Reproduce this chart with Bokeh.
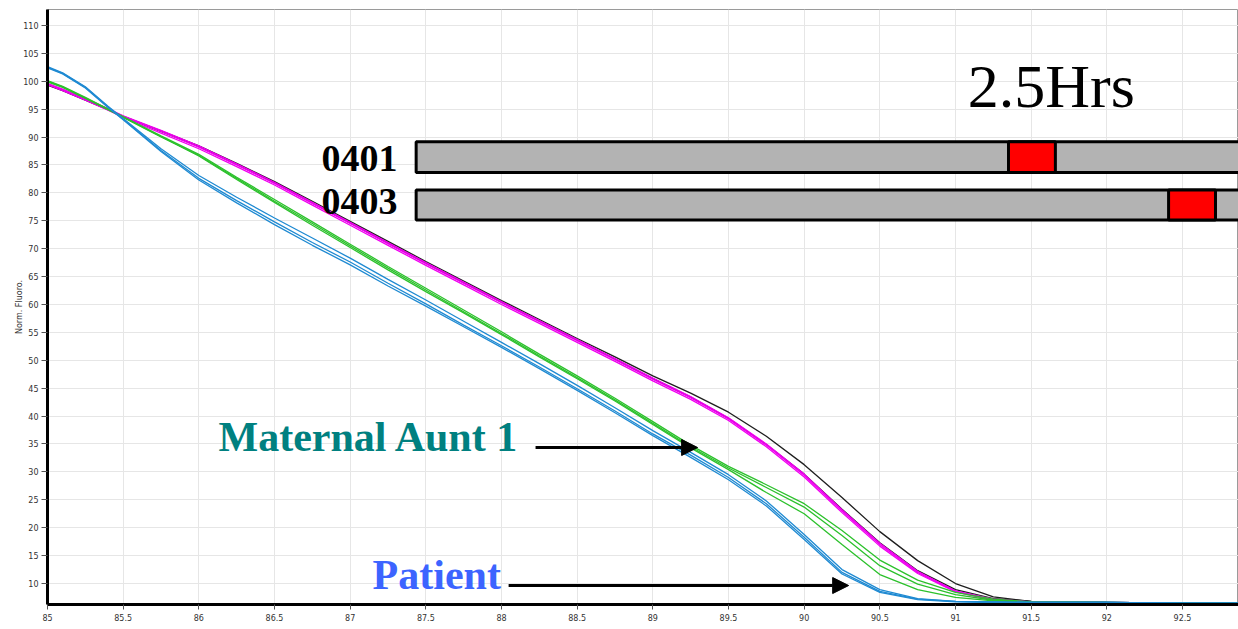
from bokeh.plotting import figure
from bokeh.models import (Range1d, FixedTicker, NumeralTickFormatter, Label,
                          Arrow, NormalHead)
from bokeh.embed import file_html
from bokeh.resources import INLINE

# Melt temperatures (deg.) shared by every curve
temps = [85.0, 85.1, 85.25, 85.4, 85.5, 85.75, 86.0, 86.25, 86.5, 86.75, 87.0,
         87.25, 87.5, 87.75, 88.0, 88.25, 88.5, 88.75, 89.0, 89.25, 89.5, 89.75,
         90.0, 90.25, 90.5, 90.75, 91.0, 91.25, 91.5, 92.0, 92.5, 92.9]

# Normalised fluorescence, patient replicates (blue)
patient_1 = [102.5, 101.4, 98.9, 95.4, 93.2, 87.6, 82.6, 78.6, 74.8, 71.1, 67.6,
             63.8, 60.1, 56.3, 52.6, 48.8, 44.9, 40.9, 36.8, 33.0, 29.0, 24.3,
             18.3, 12.0, 8.6, 7.2, 6.8, 6.7, 6.6, 6.6, 6.5, 6.5]
patient_2 = [102.6, 101.5, 99.0, 95.5, 93.3, 87.9, 83.1, 79.2, 75.5, 71.9, 68.3,
             64.5, 60.8, 57.0, 53.2, 49.4, 45.5, 41.5, 37.4, 33.5, 29.5, 24.8,
             18.8, 12.5, 8.9, 7.3, 6.8, 6.7, 6.6, 6.6, 6.5, 6.5]
patient_3 = [102.4, 101.3, 98.8, 95.3, 93.1, 87.4, 82.3, 78.2, 74.3, 70.6, 67.1,
             63.3, 59.7, 56.0, 52.3, 48.5, 44.6, 40.6, 36.5, 32.6, 28.6, 23.9,
             17.9, 11.7, 8.4, 7.1, 6.7, 6.6, 6.6, 6.6, 6.5, 6.5]

# Maternal aunt 1 replicates (green)
aunt_1 = [100.0, 99.0, 97.0, 95.0, 93.6, 90.2, 86.9, 82.8, 78.8, 74.8, 70.8,
          66.8, 62.9, 59.0, 55.1, 51.1, 47.2, 43.2, 39.0, 34.8, 31.0, 27.7,
          24.3, 19.5, 14.2, 10.6, 8.4, 7.2, 6.7, 6.6, 6.5, 6.5]
aunt_2 = [99.9, 98.9, 96.9, 94.9, 93.5, 90.0, 86.7, 82.6, 78.5, 74.5, 70.5,
          66.5, 62.6, 58.7, 54.8, 50.8, 46.9, 42.9, 38.7, 34.5, 30.7, 27.2,
          23.7, 18.6, 13.2, 9.9, 8.0, 7.0, 6.7, 6.6, 6.5, 6.5]
aunt_3 = [100.1, 99.1, 97.1, 95.0, 93.6, 90.1, 86.6, 82.4, 78.3, 74.2, 70.2,
          66.2, 62.3, 58.5, 54.6, 50.6, 46.7, 42.7, 38.5, 34.3, 30.4, 26.3,
          22.5, 17.0, 11.6, 8.9, 7.5, 6.9, 6.6, 6.6, 6.5, 6.5]

# Reference sample replicates (magenta)
ref_m1 = [99.5, 98.5, 96.8, 95.0, 93.7, 91.0, 88.2, 85.0, 81.7, 78.1, 74.5,
          70.9, 67.3, 63.8, 60.3, 56.9, 53.5, 50.1, 46.6, 43.3, 39.5, 34.8,
          29.4, 23.0, 17.0, 12.0, 8.6, 7.1, 6.7, 6.6, 6.5, 6.5]
ref_m2 = [99.4, 98.3, 96.6, 94.8, 93.5, 90.7, 87.9, 84.7, 81.4, 77.8, 74.2,
          70.6, 67.0, 63.5, 60.0, 56.6, 53.2, 49.8, 46.3, 43.0, 39.2, 34.5,
          29.1, 22.7, 16.7, 11.8, 8.5, 7.0, 6.7, 6.6, 6.5, 6.5]
ref_m3 = [99.6, 98.6, 96.9, 95.1, 93.8, 91.2, 88.4, 85.2, 81.9, 78.3, 74.7,
          71.1, 67.5, 64.0, 60.5, 57.1, 53.7, 50.3, 46.8, 43.5, 39.7, 35.0,
          29.6, 23.2, 17.2, 12.2, 8.7, 7.2, 6.7, 6.6, 6.5, 6.5]

# Control replicates (black)
ctrl_1 = [99.3, 98.3, 96.6, 94.9, 93.7, 91.1, 88.4, 85.3, 82.0, 78.5, 74.9,
          71.3, 67.7, 64.2, 60.7, 57.3, 53.9, 50.6, 47.2, 44.1, 40.7, 36.4,
          31.3, 25.4, 19.3, 14.1, 10.0, 7.6, 6.8, 6.6, 6.5, 6.5]
ctrl_2 = [99.4, 98.4, 96.7, 94.9, 93.7, 91.0, 88.3, 85.1, 81.8, 78.2, 74.6,
          71.0, 67.4, 63.9, 60.4, 57.0, 53.6, 50.2, 46.7, 43.4, 39.6, 34.9,
          29.6, 23.3, 17.3, 12.3, 8.9, 7.3, 6.8, 6.6, 6.5, 6.5]

x_ticks = [85.0, 85.5, 86.0, 86.5, 87.0, 87.5, 88.0, 88.5, 89.0, 89.5, 90.0,
           90.5, 91.0, 91.5, 92.0, 92.5]
y_ticks = [10, 15, 20, 25, 30, 35, 40, 45, 50, 55, 60, 65, 70, 75, 80, 85, 90,
           95, 100, 105, 110]

# Allele rows: label, melt window start/end on the temperature scale
allele_names = ["0401", "0403"]
allele_win_lo = [91.35, 92.408]
allele_win_hi = [91.66, 92.718]

p = figure(width=1238, height=629, output_backend="svg", toolbar_location=None,
           x_range=Range1d(85.0, 92.87), y_range=Range1d(6.24, 112.85),
           min_border_left=47, min_border_right=0, min_border_top=9,
           min_border_bottom=25, background_fill_color="white",
           border_fill_color="white")

p.outline_line_color = "#9a9a9a"
p.outline_line_width = 1
p.grid.grid_line_color = "#e6e6e6"
p.grid.grid_line_width = 1

for ax in (p.xaxis[0], p.yaxis[0]):
    ax.axis_line_width = 3
    ax.axis_line_color = "black"
    ax.major_tick_line_color = "#555555"
    ax.major_tick_in = 0
    ax.minor_tick_line_color = None
    ax.major_label_text_font = "DejaVu Sans"
    ax.major_label_text_font_size = "8px"
    ax.major_label_text_color = "#333333"
    ax.axis_label_text_font = "DejaVu Sans"
    ax.axis_label_text_font_size = "8px"
    ax.axis_label_text_font_style = "normal"
    ax.axis_label_text_color = "#333333"
    ax.formatter = NumeralTickFormatter(format="0.[0]")

p.xaxis.ticker = FixedTicker(ticks=x_ticks)
p.yaxis.ticker = FixedTicker(ticks=y_ticks)
p.xaxis.major_tick_out = 5
p.yaxis.major_tick_out = 6
p.xaxis.major_label_standoff = 4
p.yaxis.major_label_standoff = 3
p.yaxis.axis_label = "Norm. Fluoro."
p.yaxis.axis_label_standoff = -4

# x-axis title sits just under the tick labels
p.add_layout(Label(x=89.0, y=-24, y_units="screen", text="deg.",
                   text_font="DejaVu Sans", text_font_size="7px",
                   text_color="#333333", text_align="center",
                   text_baseline="bottom"))

groups = [
    ([ctrl_1, ctrl_2], "#1e1e1e"),
    ([ref_m1, ref_m2, ref_m3], "#f000f0"),
    ([aunt_1, aunt_2, aunt_3], "#2cc12c"),
    ([patient_1, patient_2, patient_3], "#1f8ad2"),
]
for series, color in groups:
    for ys in series:
        p.line(temps, ys, line_color=color, line_width=1.3)

# Allele bars with their melt windows
row_top = [89.16, 80.52]
row_bot = [83.66, 75.14]
p.quad(left=[87.436, 87.436], right=[93.5, 93.5], top=row_top, bottom=row_bot,
       fill_color="#b3b3b3", line_color="black", line_width=3)
p.quad(left=allele_win_lo, right=allele_win_hi, top=row_top, bottom=row_bot,
       fill_color="#ff0000", line_color="black", line_width=3)

serif = "Liberation Serif"
for name, base in zip(allele_names, [86.2, 78.4]):
    p.add_layout(Label(x=87.313, y=base, text=name, text_font=serif,
                       text_font_size="38px", text_font_style="bold",
                       text_color="black", text_align="right",
                       text_baseline="alphabetic"))

p.add_layout(Label(x=91.081, y=99.1, text="2.5Hrs", text_font=serif,
                   text_font_size="62px", text_color="black",
                   text_baseline="alphabetic"))

p.add_layout(Label(x=86.13, y=36.2, text="Maternal Aunt 1", text_font=serif,
                   text_font_size="42px", text_font_style="bold",
                   text_color="#008080", text_baseline="alphabetic"))
p.add_layout(Label(x=87.148, y=11.5, text="Patient", text_font=serif,
                   text_font_size="42px", text_font_style="bold",
                   text_color="#3c64ff", text_baseline="alphabetic"))

for xs, xe, yy in [(88.225, 89.296, 34.37), (88.047, 90.294, 9.64)]:
    p.add_layout(Arrow(x_start=xs, y_start=yy, x_end=xe, y_end=yy,
                       line_color="black", line_width=3,
                       end=NormalHead(size=16, fill_color="black",
                                      line_color="black", line_width=1)))

open("out.html", "w").write(file_html(p, INLINE))
